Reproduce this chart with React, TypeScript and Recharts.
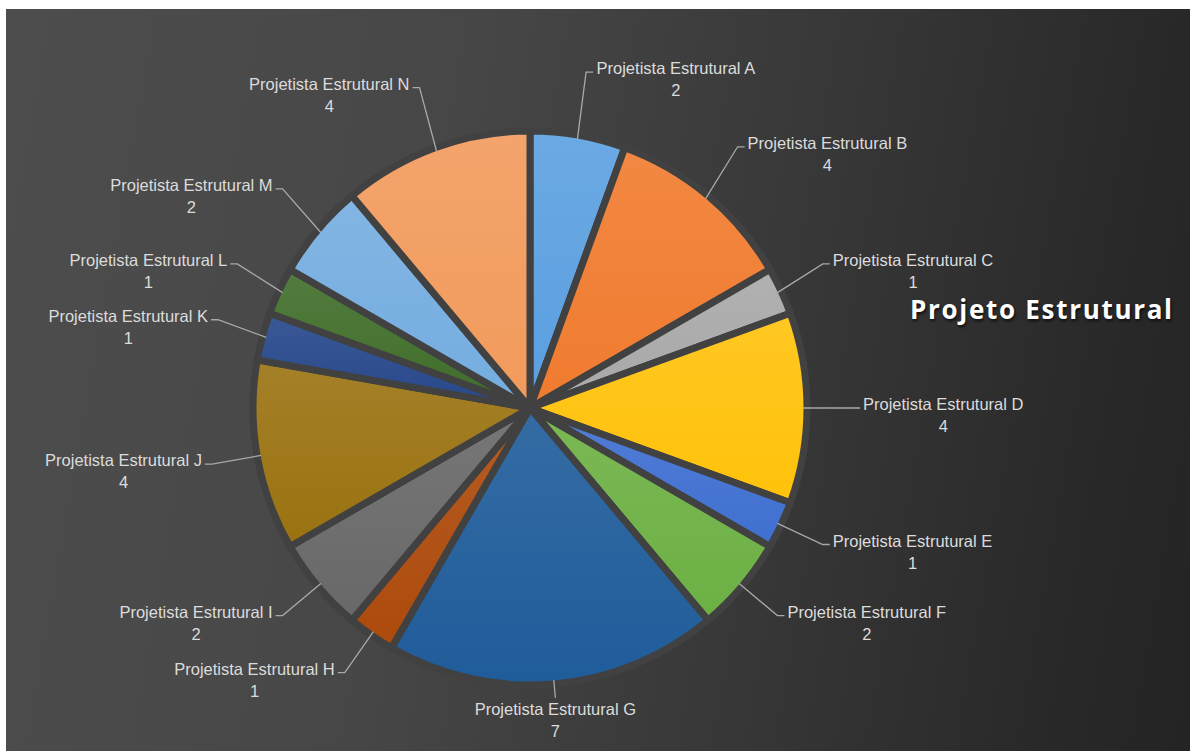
import React from "react";
import { PieChart, Pie, Cell } from "recharts";

const names = [
  "Projetista Estrutural A",
  "Projetista Estrutural B",
  "Projetista Estrutural C",
  "Projetista Estrutural D",
  "Projetista Estrutural E",
  "Projetista Estrutural F",
  "Projetista Estrutural G",
  "Projetista Estrutural H",
  "Projetista Estrutural I",
  "Projetista Estrutural J",
  "Projetista Estrutural K",
  "Projetista Estrutural L",
  "Projetista Estrutural M",
  "Projetista Estrutural N",
];
const values = [2, 4, 1, 4, 1, 2, 7, 1, 2, 4, 1, 1, 2, 4];
const colors = [
  "#5a9fe0", "#f07b2e", "#a8a8a8", "#ffc20a", "#3f6fd0", "#6cb043", "#1f5c9a",
  "#ad4a0c", "#686868", "#9a7210", "#26478a", "#3f6d2a", "#74ade0", "#f29a5c",
];
const title = "Projeto Estrutural";

const data = names.map((name, i) => ({ name, value: values[i] }));

const RAD = Math.PI / 180;
const LABEL_FONT = "16.5px 'Liberation Sans', Arial, sans-serif";

let ctx: CanvasRenderingContext2D | null = null;
function textWidth(t: string) {
  if (!ctx) ctx = document.createElement("canvas").getContext("2d");
  if (!ctx) return t.length * 7;
  ctx.font = LABEL_FONT;
  return ctx.measureText(t).width;
}

function lighten(hex: string, k: number) {
  const n = parseInt(hex.slice(1), 16);
  const c = [n >> 16, (n >> 8) & 255, n & 255].map((v) => Math.round(v + (255 - v) * k));
  return "rgb(" + c.join(",") + ")";
}

function renderLabel(props: any) {
  const { cx, cy, midAngle, outerRadius, name, value } = props;
  const cos = Math.cos(-midAngle * RAD);
  const sin = Math.sin(-midAngle * RAD);
  const bottom = sin > 0.97;
  const sx = cx + (outerRadius - 4) * cos;
  const sy = cy + (outerRadius - 4) * sin;
  const rx = bottom ? outerRadius + 14 : outerRadius + 46;
  const ry = bottom ? outerRadius + 14 : sin < 0 ? outerRadius + 64 : outerRadius + 46;
  const ex = cx + rx * cos;
  const ey = cy + ry * sin;
  const w = textWidth(name);
  const right = cos >= 0;
  let tx: number;
  let ty: number;
  let path: string;
  if (bottom) {
    tx = ex;
    ty = ey + 17;
    path = `M${sx},${sy}L${ex},${ey}`;
  } else {
    const hx = ex + (right ? 7 : -7);
    path = `M${sx},${sy}L${ex},${ey}L${hx},${ey}`;
    tx = right ? hx + 3 + w / 2 : hx - 3 - w / 2;
    ty = ey + 2;
  }
  return (
    <g>
      <path d={path} stroke="#a9a9a9" strokeWidth={1.3} fill="none" />
      <text x={tx} y={ty} textAnchor="middle" fill="#dcdcdc" style={{ font: LABEL_FONT }}>
        {name}
      </text>
      <text x={tx} y={ty + 22} textAnchor="middle" fill="#dcdcdc" style={{ font: LABEL_FONT }}>
        {value}
      </text>
    </g>
  );
}

export default function App() {
  return (
    <div style={{ position: "relative", width: 1190, height: 751, background: "#ffffff", overflow: "hidden" }}>
      <style>{"body{margin:0}"}</style>
      <div
        style={{
          position: "absolute",
          left: 6,
          top: 9,
          right: 0,
          bottom: 0,
          background: "linear-gradient(100deg, #4d4d4d 0%, #474747 35%, #373737 65%, #282828 90%, #242424 100%)",
        }}
      />
      <div style={{ position: "absolute", left: 0, top: 0 }}>
        <PieChart width={1190} height={751}>
          <defs>
            {colors.map((c, i) => (
              <linearGradient key={i} id={"sl" + i} x1="0" y1="0" x2="0" y2="1">
                <stop offset="0%" stopColor={lighten(c, 0.1)} />
                <stop offset="100%" stopColor={c} />
              </linearGradient>
            ))}
          </defs>
          <Pie
            data={data}
            dataKey="value"
            nameKey="name"
            cx={525}
            cy={403}
            outerRadius={277}
            startAngle={90}
            endAngle={-270}
            stroke="#414141"
            strokeWidth={7}
            label={renderLabel}
            labelLine={false}
            isAnimationActive={false}
          >
            {data.map((_, i) => (
              <Cell key={i} fill={`url(#sl${i})`} />
            ))}
          </Pie>
        </PieChart>
      </div>
      <div
        style={{
          position: "absolute",
          left: 910,
          top: 296,
          font: "bold 26px 'Open Sans', sans-serif",
          lineHeight: 1,
          letterSpacing: 1.7,
          color: "#ffffff",
          textShadow: "1px 2px 3px rgba(0,0,0,0.7)",
          whiteSpace: "nowrap",
        }}
      >
        {title}
      </div>
    </div>
  );
}
